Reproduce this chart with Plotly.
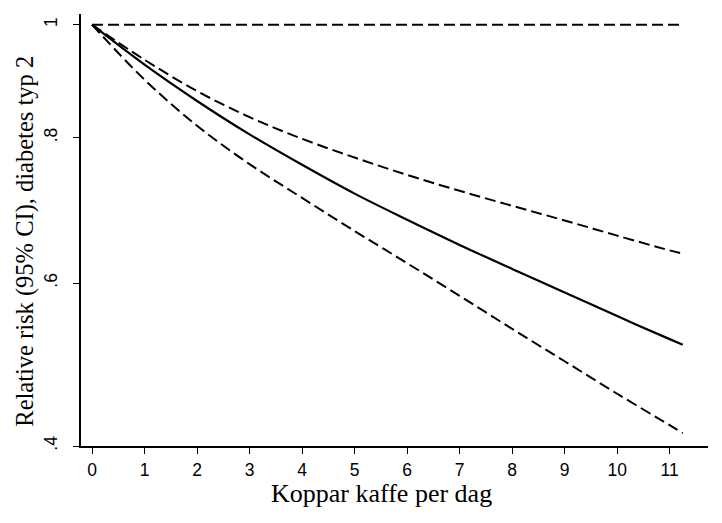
import math
import plotly.graph_objects as go

# Cups of coffee per day
cups = [0, 1, 2, 3, 4, 5, 6, 7, 8, 9, 10, 11, 11.25]
# Relative risk (point estimate) and 95% CI
rr = [1.0, 0.924, 0.860, 0.805, 0.758, 0.716, 0.680, 0.647, 0.617, 0.589, 0.562, 0.537, 0.531]
ci_upper = [1.0, 0.933, 0.877, 0.833, 0.798, 0.769, 0.743, 0.720, 0.699, 0.679, 0.659, 0.640, 0.636]
ci_lower = [1.0, 0.897, 0.819, 0.759, 0.710, 0.665, 0.624, 0.585, 0.548, 0.514, 0.482, 0.453, 0.446]
reference = [1.0] * len(cups)

x_ticks = list(range(0, 12))
y_tickvals = [0.4347, 0.6, 0.8, 1.0]
y_ticktext = [".4", ".6", ".8", "1"]
y_range = [0.4347, 1.0214]

dash = "11px,5px"
fig = go.Figure()
fig.add_trace(go.Scatter(x=cups, y=reference, mode="lines",
                         line=dict(color="black", width=2, dash=dash), hoverinfo="skip"))
fig.add_trace(go.Scatter(x=cups, y=ci_upper, mode="lines", line_shape="spline",
                         line=dict(color="black", width=2, dash=dash)))
fig.add_trace(go.Scatter(x=cups, y=ci_lower, mode="lines", line_shape="spline",
                         line=dict(color="black", width=2, dash=dash)))
fig.add_trace(go.Scatter(x=cups, y=rr, mode="lines", line_shape="spline",
                         line=dict(color="black", width=2.2)))

tick_font = dict(family="Liberation Sans, Arial, sans-serif", size=17.5, color="black")
xtitle_font = dict(family="Liberation Serif, Times New Roman, serif", size=26, color="black")
ytitle_font = dict(family="Liberation Serif, Times New Roman, serif", size=24.5, color="black")

fig.update_layout(
    width=722, height=523,
    margin=dict(l=73, r=22, t=6, b=85),
    paper_bgcolor="white", plot_bgcolor="white",
    showlegend=False,
    xaxis=dict(range=[-0.21, 11.73], tickvals=x_ticks, ticks="outside", ticklen=6,
               tickwidth=1.2, tickcolor="black", showline=True, linecolor="black",
               linewidth=1.5, showgrid=False, zeroline=False, tickfont=tick_font,
               ticklabelstandoff=1),
    yaxis=dict(type="log", range=[math.log10(y_range[0]), math.log10(y_range[1])],
               tickvals=y_tickvals, ticktext=y_ticktext, tickangle=-90,
               ticks="outside", ticklen=6, tickwidth=1.2, tickcolor="black",
               showline=True, linecolor="black", linewidth=1.5, showgrid=False,
               zeroline=False, tickfont=tick_font, ticklabelstandoff=9),
    annotations=[
        dict(text="Koppar kaffe per dag", xref="paper", yref="paper", x=0.48, y=-0.111,
             xanchor="center", yanchor="middle", showarrow=False, font=xtitle_font),
        dict(text="Relative risk (95% CI), diabetes typ 2", xref="paper", yref="paper",
             x=-0.0893, y=0.473, xanchor="center", yanchor="middle", textangle=-90,
             showarrow=False, font=ytitle_font),
    ],
)

fig.write_html("out.html")
